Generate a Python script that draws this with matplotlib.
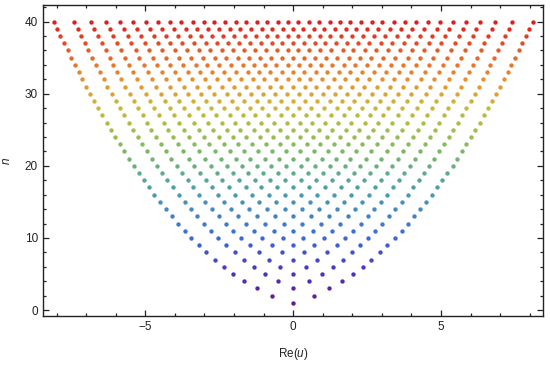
import matplotlib
matplotlib.use("Agg")
import matplotlib.pyplot as plt
from matplotlib.colors import LinearSegmentedColormap
from matplotlib.ticker import MultipleLocator

plt.rcParams['font.family'] = ['Liberation Sans', 'DejaVu Sans']
plt.rcParams['mathtext.fontset'] = 'custom'
plt.rcParams['mathtext.it'] = 'Liberation Sans:italic'
plt.rcParams['mathtext.rm'] = 'Liberation Sans'

# positive Re(u) values of each row n (odd rows also have a point at 0)
n_values = list(range(1, 41))
pos_u = [
    [],
    [0.71],
    [1.22],
    [0.52, 1.65],
    [0.96, 2.02],
    [0.44, 1.34, 2.35],
    [0.82, 1.67, 2.65],
    [0.38, 1.16, 1.98, 2.93],
    [0.72, 1.47, 2.27, 3.19],
    [0.34, 1.04, 1.76, 2.53, 3.44],
    [0.66, 1.33, 2.03, 2.78, 3.67],
    [0.31, 0.95, 1.60, 2.28, 3.02, 3.89],
    [0.61, 1.22, 1.85, 2.52, 3.25, 4.10],
    [0.29, 0.88, 1.48, 2.10, 2.75, 3.46, 4.30],
    [0.57, 1.14, 1.72, 2.33, 2.97, 3.67, 4.50],
    [0.27, 0.82, 1.38, 1.95, 2.55, 3.18, 3.87, 4.69],
    [0.53, 1.07, 1.61, 2.17, 2.76, 3.38, 4.06, 4.87],
    [0.26, 0.78, 1.30, 1.84, 2.39, 2.96, 3.57, 4.25, 5.05],
    [0.50, 1.01, 1.52, 2.05, 2.59, 3.16, 3.76, 4.43, 5.22],
    [0.25, 0.74, 1.23, 1.74, 2.25, 2.79, 3.35, 3.94, 4.60, 5.39],
    [0.48, 0.96, 1.45, 1.94, 2.45, 2.98, 3.53, 4.12, 4.77, 5.55],
    [0.23, 0.70, 1.18, 1.66, 2.14, 2.65, 3.17, 3.71, 4.29, 4.94, 5.71],
    [0.46, 0.92, 1.38, 1.86, 2.34, 2.83, 3.35, 3.88, 4.46, 5.10, 5.86],
    [0.22, 0.67, 1.13, 1.58, 2.05, 2.52, 3.01, 3.52, 4.05, 4.63, 5.26, 6.02],
    [0.44, 0.88, 1.33, 1.78, 2.24, 2.71, 3.19, 3.69, 4.22, 4.79, 5.41, 6.16],
    [0.22, 0.65, 1.08, 1.52, 1.97, 2.42, 2.88, 3.36, 3.86, 4.38, 4.94, 5.56, 6.31],
    [0.42, 0.85, 1.28, 1.71, 2.15, 2.60, 3.05, 3.53, 4.02, 4.54, 5.09, 5.71, 6.45],
    [0.21, 0.62, 1.04, 1.47, 1.89, 2.33, 2.77, 3.22, 3.69, 4.18, 4.69, 5.24, 5.86, 6.59],
    [0.41, 0.82, 1.23, 1.65, 2.07, 2.50, 2.94, 3.38, 3.85, 4.33, 4.84, 5.39, 6.00, 6.73],
    [0.20, 0.60, 1.01, 1.42, 1.83, 2.24, 2.67, 3.10, 3.54, 4.00, 4.48, 4.99, 5.53, 6.14, 6.86],
    [0.40, 0.79, 1.19, 1.59, 2.00, 2.41, 2.83, 3.26, 3.70, 4.16, 4.63, 5.13, 5.67, 6.28, 7.00],
    [0.19, 0.58, 0.98, 1.37, 1.77, 2.17, 2.58, 2.99, 3.42, 3.85, 4.31, 4.78, 5.28, 5.81, 6.41, 7.13],
    [0.38, 0.77, 1.16, 1.54, 1.94, 2.33, 2.74, 3.15, 3.57, 4.00, 4.45, 4.92, 5.41, 5.95, 6.54, 7.25],
    [0.19, 0.57, 0.95, 1.33, 1.71, 2.10, 2.50, 2.90, 3.30, 3.72, 4.15, 4.60, 5.06, 5.55, 6.08, 6.67, 7.38],
    [0.37, 0.75, 1.12, 1.50, 1.88, 2.26, 2.65, 3.05, 3.45, 3.87, 4.29, 4.74, 5.20, 5.69, 6.21, 6.80, 7.50],
    [0.18, 0.55, 0.92, 1.29, 1.67, 2.04, 2.42, 2.81, 3.20, 3.60, 4.01, 4.44, 4.88, 5.33, 5.82, 6.34, 6.93, 7.63],
    [0.36, 0.73, 1.09, 1.46, 1.83, 2.20, 2.58, 2.96, 3.35, 3.75, 4.16, 4.58, 5.01, 5.47, 5.95, 6.47, 7.05, 7.75],
    [0.18, 0.54, 0.90, 1.26, 1.62, 1.99, 2.36, 2.73, 3.11, 3.50, 3.89, 4.30, 4.71, 5.15, 5.60, 6.08, 6.59, 7.17, 7.87],
    [0.35, 0.71, 1.06, 1.42, 1.78, 2.14, 2.51, 2.88, 3.26, 3.64, 4.03, 4.43, 4.85, 5.28, 5.73, 6.20, 6.72, 7.29, 7.98],
    [0.17, 0.52, 0.87, 1.23, 1.58, 1.93, 2.29, 2.66, 3.02, 3.40, 3.78, 4.17, 4.57, 4.98, 5.41, 5.85, 6.33, 6.84, 7.41, 8.10],
]

rainbow = LinearSegmentedColormap.from_list("rainbow_mma", [
    (0.00, (0.42, 0.10, 0.55)),
    (0.10, (0.30, 0.19, 0.76)),
    (0.25, (0.23, 0.44, 0.85)),
    (0.40, (0.30, 0.62, 0.68)),
    (0.50, (0.42, 0.70, 0.48)),
    (0.60, (0.60, 0.75, 0.30)),
    (0.70, (0.80, 0.72, 0.22)),
    (0.80, (0.91, 0.56, 0.18)),
    (0.90, (0.90, 0.36, 0.15)),
    (1.00, (0.87, 0.12, 0.12)),
])

fig = plt.figure(figsize=(5.5, 3.65), dpi=100)
ax = fig.add_axes([0.0776, 0.135, 0.9102, 0.8505])

for n, vals in zip(n_values, pos_u):
    xs = [-v for v in vals[::-1]] + ([0.0] if n % 2 == 1 else []) + vals
    ys = [n] * len(xs)
    ax.scatter(xs, ys, s=10, color=rainbow((n - 1) / 39), linewidths=0, zorder=3)

ax.set_xlim(-8.47, 8.46)
ax.set_ylim(-0.78, 42.26)
ax.xaxis.set_major_locator(MultipleLocator(5))
ax.xaxis.set_minor_locator(MultipleLocator(1))
ax.yaxis.set_major_locator(MultipleLocator(10))
ax.yaxis.set_minor_locator(MultipleLocator(2))
ax.tick_params(which='both', direction='in', top=True, right=True, color='#222222',
               labelsize=8.5, labelcolor='#222222', width=0.9)
ax.tick_params(which='major', length=4)
ax.tick_params(which='minor', length=2.3)
for sp in ax.spines.values():
    sp.set_linewidth(1.0)
    sp.set_color('#222222')

ax.set_xlabel("Re($u$)", fontsize=8.5, color='#222222', labelpad=10)
ax.set_ylabel("$n$", fontsize=8.5, color='#222222', labelpad=8)

fig.savefig("out.png", dpi=100)
